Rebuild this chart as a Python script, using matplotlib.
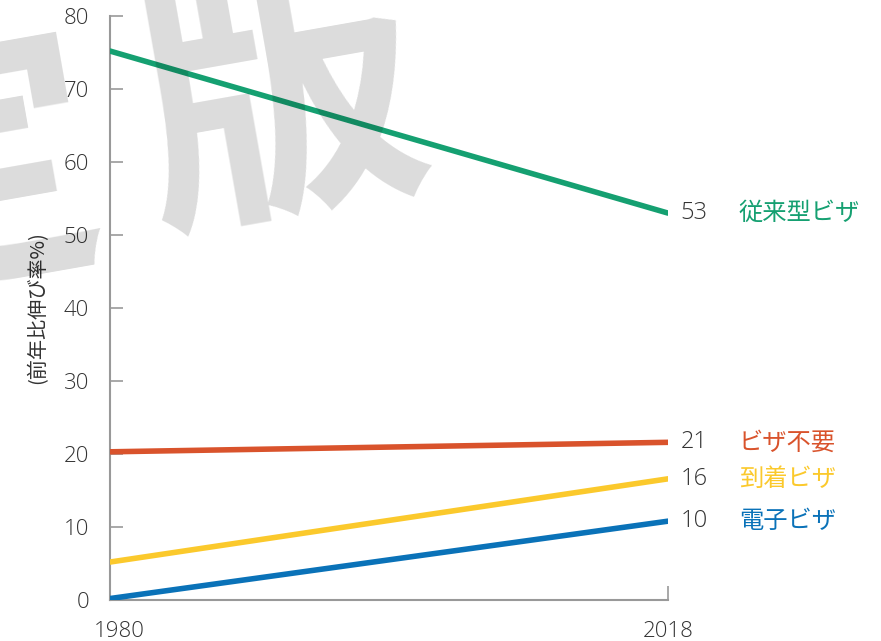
import matplotlib
matplotlib.use("Agg")
import matplotlib.pyplot as plt
from matplotlib.transforms import ScaledTranslation

plt.rcParams['font.family'] = ['Open Sans', 'Noto Sans CJK JP', 'DejaVu Sans']

years = [1980, 2018]
series_names = ['従来型ビザ', 'ビザ不要', '到着ビザ', '電子ビザ']
traditional = [75.2, 53.0]
visa_free = [20.3, 21.6]
on_arrival = [5.2, 16.6]
e_visa = [0.2, 10.8]
end_labels = ['53', '21', '16', '10']
colors = ['#15a071', '#d9532c', '#fbc92c', '#0a72b8']
y_ticks = [0, 10, 20, 30, 40, 50, 60, 70, 80]

fig = plt.figure(figsize=(8.81, 6.41), dpi=100)
ax = fig.add_axes([110 / 881, 41 / 641, 558 / 881, 584 / 641])

all_series = [traditional, visa_free, on_arrival, e_visa]
for vals, c in zip(all_series, colors):
    ax.plot(years, vals, color=c, linewidth=4, solid_capstyle='round', zorder=3)

# 右端のラベル
for vals, c, num, name in zip(all_series, colors, end_labels, series_names):
    ax.annotate(num, (years[1], vals[1]), xytext=(9, 0), textcoords='offset points',
                ha='left', va='center', fontsize=17, fontweight='light', color='#333333',
                annotation_clip=False)
    ax.annotate(name, (years[1], vals[1]), xytext=(51, 0), textcoords='offset points',
                ha='left', va='center', fontsize=17.5, color=c, annotation_clip=False,
                family=['Noto Sans CJK JP', 'DejaVu Sans'])

ax.set_xlim(1980, 2018)
ax.set_ylim(0, 80)
ax.set_yticks(y_ticks)
ax.set_xticks(years)
ax.tick_params(axis='y', direction='in', length=9.5, width=1.2, color='#999999',
               pad=15, labelsize=16, labelcolor='#333333')
ax.tick_params(axis='x', direction='in', length=10, width=1.2, color='#999999',
               pad=15, labelsize=16, labelcolor='#333333')
for lbl in ax.get_xticklabels() + ax.get_yticklabels():
    lbl.set_fontweight('light')
# 1980 のラベルは少し右寄り
xl = ax.get_xticklabels()[0]
xl.set_transform(xl.get_transform() + ScaledTranslation(9 / 100, 0, fig.dpi_scale_trans))
for s in ['top', 'right']:
    ax.spines[s].set_visible(False)
for s in ['left', 'bottom']:
    ax.spines[s].set_color('#999999')
    ax.spines[s].set_linewidth(1.5)

ax.set_ylabel('(前年比伸び率%)', fontsize=14.5, color='#333333',
              family=['Noto Sans CJK JP', 'DejaVu Sans'])
ax.yaxis.set_label_coords(-0.11, 0.5)

# 透かし
fig.text(282 / 881, 1 - 108 / 641, '版', fontsize=205, fontweight='bold', color='black',
         alpha=0.14, ha='center', va='center', rotation=10, zorder=10,
         family=['Noto Sans CJK JP'])
fig.text(-42 / 881, 1 - 180 / 641, '定', fontsize=205, fontweight='bold', color='black',
         alpha=0.14, ha='center', va='center', rotation=10, zorder=10,
         family=['Noto Sans CJK JP'])

fig.savefig('out.png', dpi=100)
